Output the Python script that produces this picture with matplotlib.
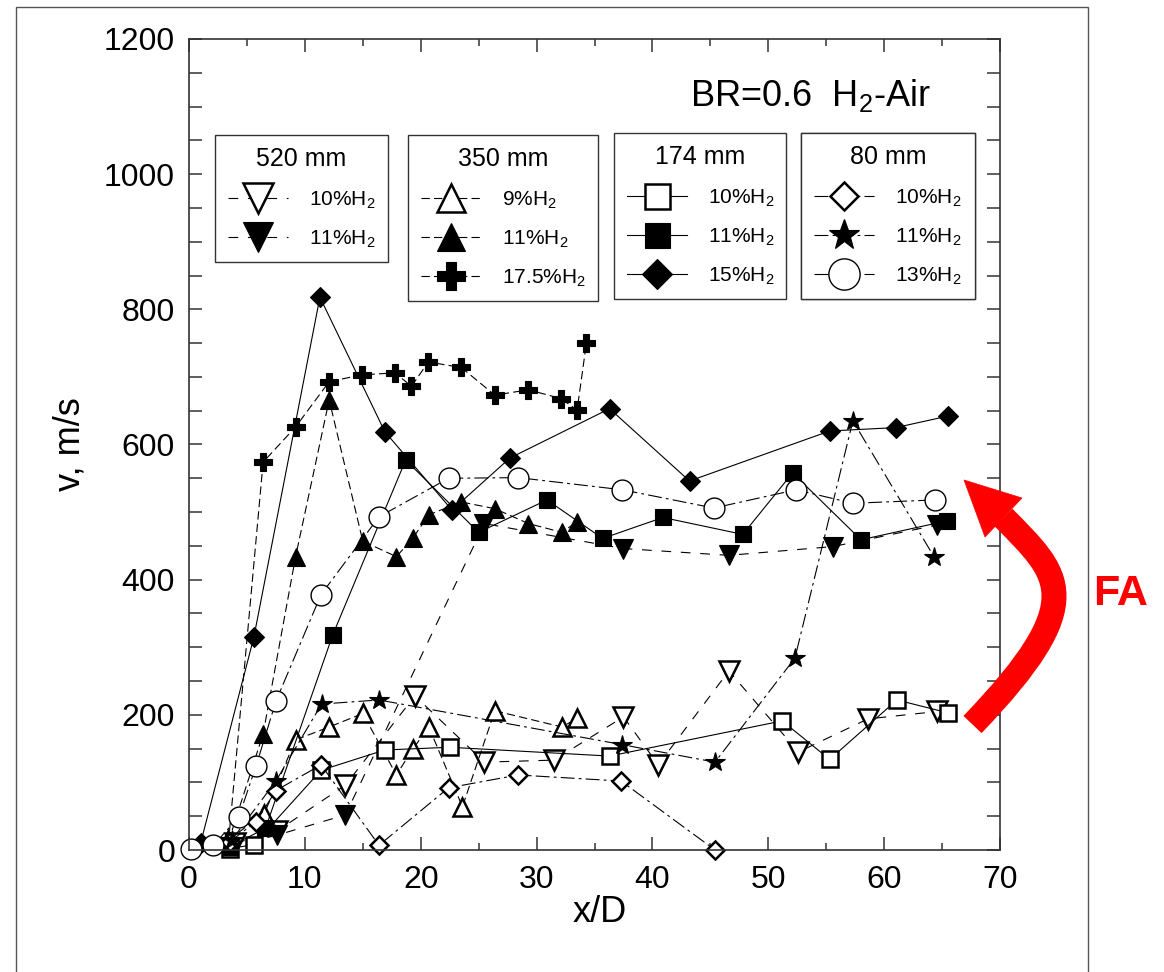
import matplotlib
matplotlib.use("Agg")
import matplotlib.pyplot as plt
from matplotlib.patches import PathPatch, Polygon, Rectangle
from matplotlib.path import Path
from matplotlib.ticker import MultipleLocator

plt.rcParams['font.family'] = ['Liberation Sans', 'DejaVu Sans']
plt.rcParams['mathtext.default'] = 'regular'
plt.rcParams['lines.scale_dashes'] = False

# ---- data (x/D, v in m/s) ----
# 520 mm
x_520_10 = [4.0, 7.6, 13.5, 19.5, 25.5, 31.5, 37.5, 40.5, 46.6, 52.6, 58.6, 64.6]
v_520_10 = [10, 28, 96, 228, 130, 133, 197, 126, 265, 145, 194, 205]
x_520_11 = [3.5, 7.6, 13.5, 25.5, 37.5, 46.6, 55.6, 64.6]
v_520_11 = [5, 22, 52, 483, 446, 436, 449, 481]
# 350 mm
x_350_9 = [3.4, 6.5, 9.2, 12.1, 15.0, 17.9, 19.3, 20.7, 23.6, 26.4, 32.2, 33.5]
v_350_9 = [15, 54, 163, 182, 202, 111, 149, 182, 64, 206, 182, 195]
x_350_11 = [3.4, 6.4, 9.2, 12.1, 15.0, 17.9, 19.3, 20.7, 23.5, 26.4, 29.3, 32.2, 33.5]
v_350_11 = [12, 172, 434, 666, 457, 434, 461, 496, 515, 505, 483, 470, 486]
x_350_175 = [3.4, 6.4, 9.2, 12.1, 14.9, 17.8, 19.2, 20.65, 23.5, 26.4, 29.3, 32.1, 33.5, 34.3]
v_350_175 = [10, 574, 626, 693, 703, 706, 686, 722, 714, 673, 681, 668, 651, 750]
# 174 mm
x_174_10 = [3.5, 5.6, 11.4, 16.9, 22.5, 36.3, 51.2, 55.3, 61.1, 65.5]
v_174_10 = [2, 8, 118, 148, 152, 139, 191, 134, 222, 203]
x_174_11 = [3.5, 6.6, 12.4, 18.7, 25.0, 30.9, 35.7, 40.9, 47.8, 52.1, 58.0, 65.4]
v_174_11 = [5, 32, 318, 577, 470, 518, 461, 492, 467, 558, 459, 487]
x_174_15 = [1.0, 5.6, 11.3, 16.9, 22.7, 27.7, 36.3, 43.2, 55.3, 61.0, 65.5]
v_174_15 = [10, 315, 818, 619, 503, 580, 653, 546, 620, 625, 642]
# 80 mm
x_80_10 = [3.5, 5.8, 7.5, 11.4, 16.4, 22.4, 28.4, 37.3, 45.4]
v_80_10 = [12, 42, 88, 126, 7, 92, 111, 102, 0]
x_80_11 = [3.7, 7.5, 11.45, 16.4, 37.35, 45.4, 52.3, 57.3, 64.3]
v_80_11 = [15, 102, 216, 222, 156, 130, 284, 635, 434]
x_80_13 = [0.2, 2.1, 4.3, 5.8, 7.5, 11.4, 16.4, 22.4, 28.4, 37.4, 45.3, 52.4, 57.3, 64.4]
v_80_13 = [2, 7, 49, 125, 220, 378, 493, 550, 551, 533, 506, 533, 513, 518]

W, H = 1164, 972
fig = plt.figure(figsize=(W / 100, H / 100), dpi=100)
ax = fig.add_axes([189 / W, 1 - 850 / H, 811 / W, 811 / H])

DASH_520 = (7, 7)
DASH_350 = (6, 3)
DASH_80 = (10, 3, 2, 3)
lw = 0.8


def plot_series(x, y, marker, ms, filled, dashes, label, mew=1.8):
    kw = dict(color='black', lw=lw, marker=marker, ms=ms, mec='black',
              mfc='black' if filled else 'white', mew=mew if not filled else 0.8,
              label=label)
    if dashes is None:
        line, = ax.plot(x, y, ls='-', **kw)
    else:
        line, = ax.plot(x, y, dashes=dashes, **kw)
    return line


h_520_10 = plot_series(x_520_10, v_520_10, 'v', 14, False, DASH_520, '10%H$_2$')
h_520_11 = plot_series(x_520_11, v_520_11, 'v', 14, True, DASH_520, '11%H$_2$')
h_350_9 = plot_series(x_350_9, v_350_9, '^', 13, False, DASH_350, '9%H$_2$')
h_350_11 = plot_series(x_350_11, v_350_11, '^', 13, True, DASH_350, '11%H$_2$')
h_350_175 = plot_series(x_350_175, v_350_175, 'P', 13.5, True, DASH_350, '17.5%H$_2$')
h_174_10 = plot_series(x_174_10, v_174_10, 's', 12, False, None, '10%H$_2$')
h_174_11 = plot_series(x_174_11, v_174_11, 's', 12, True, None, '11%H$_2$')
h_174_15 = plot_series(x_174_15, v_174_15, 'D', 10.5, True, None, '15%H$_2$')
h_80_10 = plot_series(x_80_10, v_80_10, 'D', 9.5, False, DASH_80, '10%H$_2$')
h_80_11 = plot_series(x_80_11, v_80_11, '*', 15, True, DASH_80, '11%H$_2$')
h_80_13 = plot_series(x_80_13, v_80_13, 'o', 15, False, DASH_80, '13%H$_2$', mew=1.0)

for l in ax.lines:
    l.set_clip_on(False)

ax.set_xlim(0, 70)
ax.set_ylim(0, 1200)
ax.xaxis.set_major_locator(MultipleLocator(10))
ax.xaxis.set_minor_locator(MultipleLocator(5))
ax.yaxis.set_major_locator(MultipleLocator(200))
ax.yaxis.set_minor_locator(MultipleLocator(50))
ax.tick_params(which='both', direction='in', top=True, right=True,
               color='#333333', width=1.1, labelsize=23)
ax.tick_params(axis='x', which='major', length=9.5, pad=11)
ax.tick_params(axis='x', which='minor', length=5)
ax.tick_params(axis='y', which='both', length=9.5, pad=10)
for sp in ax.spines.values():
    sp.set_color('#333333')
    sp.set_linewidth(1.2)

ax.set_xlabel('x/D', fontsize=26)
ax.set_ylabel('v, m/s', fontsize=26)
ax.xaxis.set_label_coords(0.507, -0.055)
ax.yaxis.set_label_coords(-0.125, 0.5)

# legends, one box per tube diameter
groups = [
    ('520 mm', [h_520_10, h_520_11], (215, 135, 173)),
    ('350 mm', [h_350_9, h_350_11, h_350_175], (408, 135, 190)),
    ('174 mm', [h_174_10, h_174_11, h_174_15], (614, 133, 172)),
    ('80 mm', [h_80_10, h_80_11, h_80_13], (801, 133, 174)),
]
for title, hs, (px, py, pw) in groups:
    leg = ax.legend(handles=hs, title=title, loc='upper left',
                    bbox_to_anchor=(px / W, 1 - py / H - 0.2, pw / W, 0.2),
                    bbox_transform=fig.transFigure, mode='expand',
                    fontsize=15, title_fontsize=18, fancybox=False,
                    edgecolor='#333333', framealpha=1, borderaxespad=0,
                    borderpad=0.6, handlelength=2.9, handletextpad=1.0,
                    labelspacing=0.85, markerscale=1.5)
    leg.get_frame().set_linewidth(1.0)
    ax.add_artist(leg)

fig.text(690 / W, 1 - 95 / H, 'BR=0.6  H$_2$-Air', fontsize=26, va='center', ha='left')

# outer frame
fig.patches.append(Rectangle((16 / W, -0.05), (1088 - 16) / W, 1.05 - 7 / H,
                             transform=fig.transFigure, fill=False,
                             ec='#555555', lw=1.0))


def fp(px, py):
    return (px / W, 1 - py / H)


# red curved arrow
shaft = Path([fp(972.5, 724.5), fp(1092, 600), fp(1060, 575), fp(1003.5, 517.5)],
             [Path.MOVETO, Path.CURVE4, Path.CURVE4, Path.CURVE4])
fig.patches.append(PathPatch(shaft, transform=fig.transFigure, fill=False,
                             ec='red', lw=18, capstyle='butt'))
fig.patches.append(Polygon([fp(964, 480), fp(985, 537), fp(1022, 498)],
                           closed=True, transform=fig.transFigure,
                           fc='red', ec='red', lw=0.5))
fig.text(1093 / W, 1 - 594 / H, 'FA', color='red', fontweight='bold',
         fontsize=31, va='center', ha='left')

fig.savefig('out.png', dpi=100)
